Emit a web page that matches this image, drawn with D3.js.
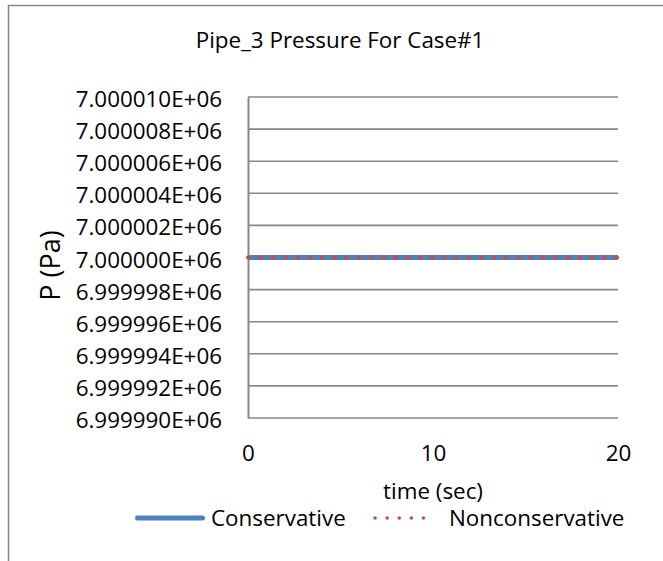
<!DOCTYPE html>
<html><head><meta charset="utf-8">
<script src="https://cdn.jsdelivr.net/npm/d3@7"></script>
<style>body{margin:0;background:#fff}svg{display:block}text{font-family:"Open Sans",sans-serif;fill:#000}</style>
</head><body><svg id="c" width="663" height="561"></svg>
<script>
const title = "Pipe_3 Pressure For Case#1";
const xLabel = "time (sec)";
const yLabel = "P (Pa)";
const seriesNames = ["Conservative", "Nonconservative"];
const seriesColors = ["#4F81BD", "#C0504D"];
const time = [0, 2, 4, 6, 8, 10, 12, 14, 16, 18, 20];
const conservative = [7000000, 7000000, 7000000, 7000000, 7000000, 7000000, 7000000, 7000000, 7000000, 7000000, 7000000];
const nonconservative = [7000000, 7000000, 7000000, 7000000, 7000000, 7000000, 7000000, 7000000, 7000000, 7000000, 7000000];
const yTicks = [6999990, 6999992, 6999994, 6999996, 6999998, 7000000, 7000002, 7000004, 7000006, 7000008, 7000010];
const xTicks = [0, 10, 20];

const svg = d3.select("#c");
const fs = 22.4;
const grid = "#878787";

// outer frame
svg.append("path").attr("d","M8.5,600 L8.5,5.5 L700,5.5").attr("fill","none").attr("stroke","#888").attr("stroke-width",1.5);

const x = d3.scaleLinear().domain([0,20]).range([248,618]);
const y = d3.scaleLinear().domain([6999990,7000010]).range([418,97]);

svg.append("text").attr("x",340).attr("y",48).attr("text-anchor","middle")
  .style("font-size",fs+"px").text(title);

// grid
svg.append("g").selectAll("line").data(yTicks).join("line")
  .attr("x1",x(0)).attr("x2",x(20)).attr("y1",d=>y(d)).attr("y2",d=>y(d))
  .attr("stroke",grid).attr("stroke-width",1.6);

const fmt = d => (d/1e6).toFixed(6) + "E+06";
const yAxis = d3.axisLeft(y).tickValues(yTicks).tickFormat(fmt).tickSize(0).tickPadding(26);
const gy = svg.append("g").attr("transform",`translate(${x(0)},0)`).call(yAxis);
gy.select(".domain").attr("stroke",grid).attr("stroke-width",2);
gy.selectAll("text").style("font-size",fs+"px").attr("font-family",null).attr("dy",null).attr("y",9.5);

const xAxis = d3.axisBottom(x).tickValues(xTicks).tickFormat(d3.format("d")).tickSize(0).tickPadding(0);
const gx = svg.append("g").attr("transform",`translate(0,${y(6999990)})`).call(xAxis);
gx.select(".domain").remove();
gx.selectAll("text").style("font-size",fs+"px").attr("font-family",null).attr("dy",null).attr("y",43);

svg.append("text").attr("x",433).attr("y",499).attr("text-anchor","middle")
  .style("font-size",fs+"px").text(xLabel);
svg.append("text").attr("transform","translate(60,265.5) rotate(-90)").attr("text-anchor","middle")
  .style("font-size","27px").text(yLabel);

const line = d3.line().x((d,i)=>x(time[i])).y(d=>y(d));
svg.append("path").datum(conservative).attr("d",line).attr("fill","none").attr("stroke",seriesColors[0]).attr("stroke-width",5);
svg.append("path").datum(nonconservative).attr("d",line).attr("fill","none").attr("stroke",seriesColors[1]).attr("stroke-width",4)
  .attr("stroke-linecap","round").attr("stroke-dasharray","1 11.27");

// legend
const ly = 518;
svg.append("line").attr("x1",137.5).attr("x2",202.5).attr("y1",ly).attr("y2",ly).attr("stroke",seriesColors[0]).attr("stroke-width",5).attr("stroke-linecap","round");
svg.append("text").attr("x",211).attr("y",526).style("font-size",fs+"px").text(seriesNames[0]);
svg.append("line").attr("x1",375).attr("x2",435).attr("y1",ly).attr("y2",ly).attr("stroke",seriesColors[1]).attr("stroke-width",3.5).attr("stroke-linecap","round").attr("stroke-dasharray","0.1 12");
svg.append("text").attr("x",449).attr("y",526).style("font-size",fs+"px").text(seriesNames[1]);
</script></body></html>
